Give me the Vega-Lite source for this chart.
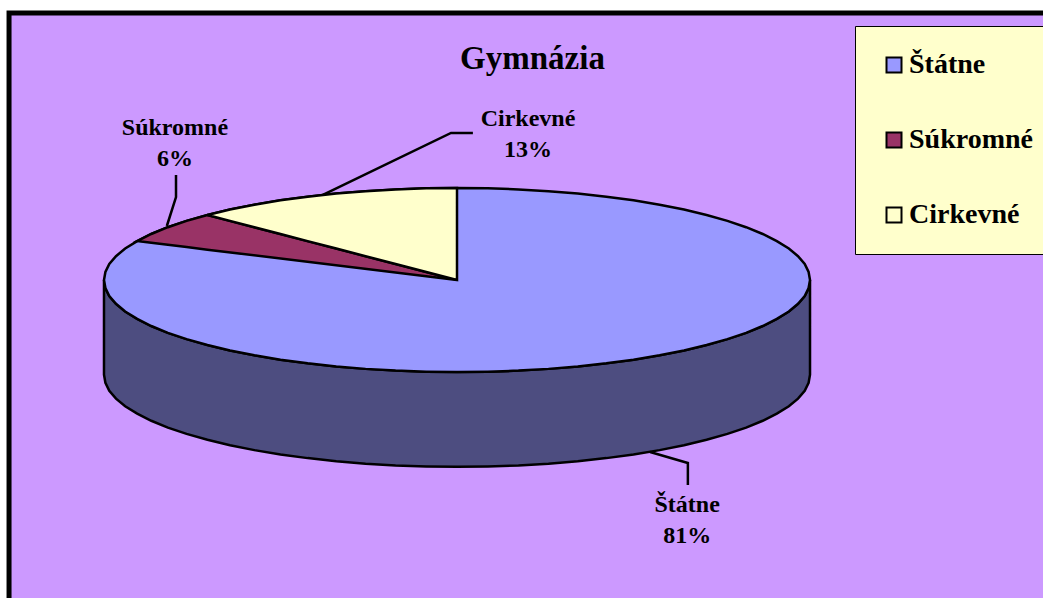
{
"$schema":"https://vega.github.io/schema/vega-lite/v6.json",
"width":1043,"height":598,"padding":0,"autosize":{"type":"none"},
"background":"#FFFFFF",
"config":{"view":{"stroke":null}},
"title":{"text":"Gymnázia","font":"Liberation Serif","fontSize":33,"fontWeight":"bold","color":"#000000","anchor":"middle","frame":"group","baseline":"alphabetic","offset":-68,"dx":11,"dy":34},
"datasets":{
"panel":[{"x":-126.9,"x2":220,"y":290.2,"y2":-420}],
"wall":[
{"x":-100,"t":0,"f":-103},{"x":-99.6,"t":-8.7,"f":-111.7},{"x":-98.5,"t":-17.4,"f":-120.4},{"x":-96.6,"t":-25.9,"f":-128.9},{"x":-94,"t":-34.2,"f":-137.2},{"x":-90.6,"t":-42.3,"f":-145.3},{"x":-86.6,"t":-50,"f":-153},{"x":-81.9,"t":-57.4,"f":-160.4},{"x":-76.6,"t":-64.3,"f":-167.3},{"x":-70.7,"t":-70.7,"f":-173.7},{"x":-64.3,"t":-76.6,"f":-179.6},{"x":-57.4,"t":-81.9,"f":-184.9},{"x":-50,"t":-86.6,"f":-189.6},{"x":-42.3,"t":-90.6,"f":-193.6},{"x":-34.2,"t":-94,"f":-197},{"x":-25.9,"t":-96.6,"f":-199.6},{"x":-17.4,"t":-98.5,"f":-201.5},{"x":-8.7,"t":-99.6,"f":-202.6},{"x":0,"t":-100,"f":-203},{"x":8.7,"t":-99.6,"f":-202.6},{"x":17.4,"t":-98.5,"f":-201.5},{"x":25.9,"t":-96.6,"f":-199.6},{"x":34.2,"t":-94,"f":-197},{"x":42.3,"t":-90.6,"f":-193.6},{"x":50,"t":-86.6,"f":-189.6},{"x":57.4,"t":-81.9,"f":-184.9},{"x":64.3,"t":-76.6,"f":-179.6},{"x":70.7,"t":-70.7,"f":-173.7},{"x":76.6,"t":-64.3,"f":-167.3},{"x":81.9,"t":-57.4,"f":-160.4},{"x":86.6,"t":-50,"f":-153},{"x":90.6,"t":-42.3,"f":-145.3},{"x":94,"t":-34.2,"f":-137.2},{"x":96.6,"t":-25.9,"f":-128.9},{"x":98.5,"t":-17.4,"f":-120.4},{"x":99.6,"t":-8.7,"f":-111.7},{"x":100,"t":0,"f":-103}
],
"slices":[
{"s":"Štátne","x":-100,"y":0,"y2":0},{"s":"Štátne","x":-99.6,"y":8.7,"y2":-8.7},{"s":"Štátne","x":-98.5,"y":17.4,"y2":-17.4},{"s":"Štátne","x":-96.6,"y":25.9,"y2":-25.9},{"s":"Štátne","x":-94,"y":34.2,"y2":-34.2},{"s":"Štátne","x":-90.6,"y":42.3,"y2":-42.3},{"s":"Štátne","x":-86.6,"y":50,"y2":-50},{"s":"Štátne","x":-81.9,"y":57.4,"y2":-57.4},{"s":"Štátne","x":-76.6,"y":64.3,"y2":-64.3},{"s":"Štátne","x":-70.7,"y":70.7,"y2":-70.7},{"s":"Štátne","x":-64.3,"y":76.6,"y2":-76.6},{"s":"Štátne","x":-57.4,"y":81.9,"y2":-81.9},{"s":"Štátne","x":-50,"y":86.6,"y2":-86.6},{"s":"Štátne","x":-42.3,"y":90.6,"y2":-90.6},{"s":"Štátne","x":-34.2,"y":94,"y2":-94},{"s":"Štátne","x":-25.9,"y":96.6,"y2":-96.6},{"s":"Štátne","x":-17.4,"y":98.5,"y2":-98.5},{"s":"Štátne","x":-8.7,"y":99.6,"y2":-99.6},{"s":"Štátne","x":0,"y":100,"y2":-100},{"s":"Štátne","x":8.7,"y":99.6,"y2":-99.6},{"s":"Štátne","x":17.4,"y":98.5,"y2":-98.5},{"s":"Štátne","x":25.9,"y":96.6,"y2":-96.6},{"s":"Štátne","x":34.2,"y":94,"y2":-94},{"s":"Štátne","x":42.3,"y":90.6,"y2":-90.6},{"s":"Štátne","x":50,"y":86.6,"y2":-86.6},{"s":"Štátne","x":57.4,"y":81.9,"y2":-81.9},{"s":"Štátne","x":64.3,"y":76.6,"y2":-76.6},{"s":"Štátne","x":70.7,"y":70.7,"y2":-70.7},{"s":"Štátne","x":76.6,"y":64.3,"y2":-64.3},{"s":"Štátne","x":81.9,"y":57.4,"y2":-57.4},{"s":"Štátne","x":86.6,"y":50,"y2":-50},{"s":"Štátne","x":90.6,"y":42.3,"y2":-42.3},{"s":"Štátne","x":94,"y":34.2,"y2":-34.2},{"s":"Štátne","x":96.6,"y":25.9,"y2":-25.9},{"s":"Štátne","x":98.5,"y":17.4,"y2":-17.4},{"s":"Štátne","x":99.6,"y":8.7,"y2":-8.7},{"s":"Štátne","x":100,"y":0,"y2":0},
{"s":"Súkromné","x":-90.6,"y":42.3,"y2":42.3},{"s":"Súkromné","x":-86.6,"y":50,"y2":40.4},{"s":"Súkromné","x":-81.9,"y":57.4,"y2":38.2},{"s":"Súkromné","x":-76.6,"y":64.3,"y2":35.8},{"s":"Súkromné","x":-70.7,"y":70.7,"y2":33},{"s":"Súkromné","x":0,"y":0,"y2":0},
{"s":"Cirkevné","x":-70.7,"y":70.7,"y2":70.7},{"s":"Cirkevné","x":-64.3,"y":76.6,"y2":64.3},{"s":"Cirkevné","x":-57.4,"y":81.9,"y2":57.4},{"s":"Cirkevné","x":-50,"y":86.6,"y2":50},{"s":"Cirkevné","x":-42.3,"y":90.6,"y2":42.3},{"s":"Cirkevné","x":-34.2,"y":94,"y2":34.2},{"s":"Cirkevné","x":-25.9,"y":96.6,"y2":25.9},{"s":"Cirkevné","x":-17.4,"y":98.5,"y2":17.4},{"s":"Cirkevné","x":-8.7,"y":99.6,"y2":8.7},{"s":"Cirkevné","x":0,"y":100,"y2":0}
],
"leaders":[
{"s":"Súkromné","k":1,"x":-79.6,"y":114.1},{"s":"Súkromné","k":2,"x":-79.6,"y":90.2},{"s":"Súkromné","k":3,"x":-82.2,"y":58.7},
{"s":"Cirkevné","k":1,"x":4.5,"y":159.8},{"s":"Cirkevné","k":2,"x":-1.7,"y":159.8},{"s":"Cirkevné","k":3,"x":-38,"y":92.4},
{"s":"Štátne","k":1,"x":65.4,"y":-222.8},{"s":"Štátne","k":2,"x":65.4,"y":-198.9},{"s":"Štátne","k":3,"x":54.7,"y":-187}
],
"labels":[
{"label":"Štátne\n81%","x":65.2,"y":-252.2},
{"label":"Súkromné\n6%","x":-79.9,"y":157.6},
{"label":"Cirkevné\n13%","x":20.1,"y":167.4}
]
},
"layer":[
{"data":{"name":"panel"},"mark":{"type":"rect","fill":"#CC99FF","stroke":"#000000","strokeWidth":5},
"encoding":{"x":{"field":"x","type":"quantitative","scale":{"domain":[-129.46,166],"nice":false,"zero":false},"axis":null},"x2":{"field":"x2"},"y":{"field":"y","type":"quantitative","scale":{"domain":[-345.65,304.35],"nice":false,"zero":false},"axis":null},"y2":{"field":"y2"}}},
{"data":{"name":"wall"},"mark":{"type":"area","fill":"#4D4D80","stroke":"#000000","strokeWidth":2.5},
"encoding":{"x":{"field":"x","type":"quantitative"},"y":{"field":"t","type":"quantitative"},"y2":{"field":"f"}}},
{"data":{"name":"slices"},"mark":{"type":"area","stroke":"#000000","strokeWidth":2.5},
"encoding":{"x":{"field":"x","type":"quantitative"},"y":{"field":"y","type":"quantitative"},"y2":{"field":"y2"},
"fill":{"field":"s","type":"nominal","scale":{"domain":["Štátne","Súkromné","Cirkevné"],"range":["#9999FF","#993366","#FFFFCC"]},
"legend":{"title":null,"orient":"none","legendX":855,"legendY":26,"fillColor":"#FFFFCC","strokeColor":"#000000","padding":25,"symbolType":"square","symbolSize":225,"symbolStrokeColor":"#000000","symbolStrokeWidth":2,"symbolOffset":0,"labelFont":"Liberation Serif","labelFontSize":28,"labelFontWeight":"bold","labelColor":"#000000","labelLimit":300,"labelOffset":1,"rowPadding":47,"encoding":{"legend":{"update":{"strokeWidth":{"value":2}}}}}}}},
{"data":{"name":"leaders"},"mark":{"type":"line","stroke":"#000000","strokeWidth":2.5},
"encoding":{"x":{"field":"x","type":"quantitative"},"y":{"field":"y","type":"quantitative"},"detail":{"field":"s"},"order":{"field":"k","type":"ordinal"}}},
{"data":{"name":"labels"},"mark":{"type":"text","font":"Liberation Serif","fontSize":24,"fontWeight":"bold","color":"#000000","align":"center","baseline":"alphabetic","lineBreak":"\n","lineHeight":31},
"encoding":{"x":{"field":"x","type":"quantitative"},"y":{"field":"y","type":"quantitative"},"text":{"field":"label"}}}
]
}
